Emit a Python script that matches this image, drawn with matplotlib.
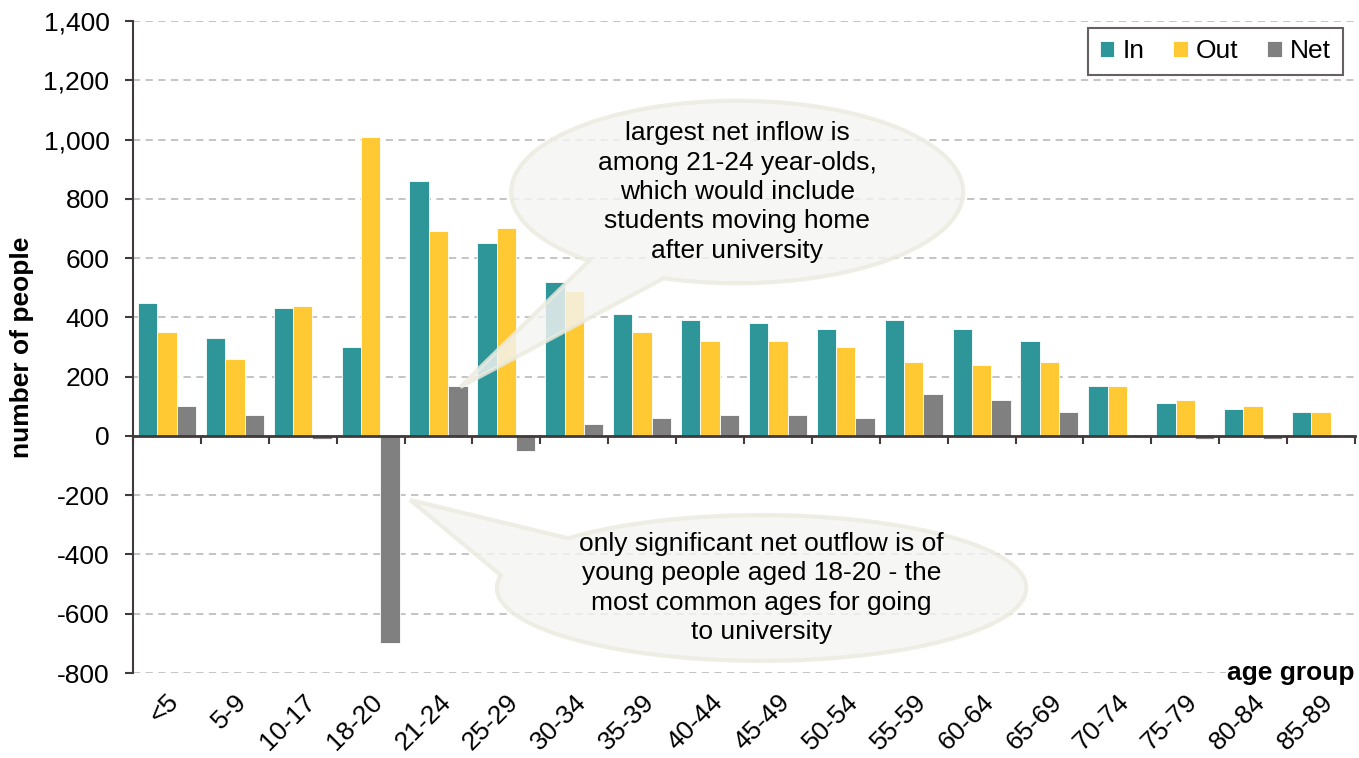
import numpy as np
import matplotlib.pyplot as plt
from matplotlib.patches import Polygon
from matplotlib.ticker import FuncFormatter

plt.rcParams['font.family'] = ['Liberation Sans', 'DejaVu Sans']

age_groups = ["<5", "5-9", "10-17", "18-20", "21-24", "25-29", "30-34", "35-39", "40-44",
              "45-49", "50-54", "55-59", "60-64", "65-69", "70-74", "75-79", "80-84", "85-89"]
inflow = [450, 330, 430, 300, 860, 650, 520, 410, 390, 380, 360, 390, 360, 320, 170, 110, 90, 80]
outflow = [350, 260, 440, 1010, 690, 700, 490, 350, 320, 320, 300, 250, 240, 250, 170, 120, 100, 80]
net = [100, 70, -10, -700, 170, -50, 40, 60, 70, 70, 60, 140, 120, 80, 0, -10, -10, 0]

note_in = "largest net inflow is\namong 21-24 year-olds,\nwhich would include\nstudents moving home\nafter university"
note_out = "only significant net outflow is of\nyoung people aged 18-20 - the\nmost common ages for going\nto university"

TEAL = "#2e9598"
YELLOW = "#ffc933"
GREY = "#808080"
DARK = "#403a3a"
FS = 19

fig = plt.figure(figsize=(13.59, 7.58), dpi=100)
ax = fig.add_axes([0.0979, 0.1121, 0.8991, 0.8602])

x = np.arange(len(age_groups))
w = 0.285
ax.bar(x - w, inflow, w, color=TEAL, edgecolor="white", linewidth=0.6, label="In", zorder=2)
ax.bar(x, outflow, w, color=YELLOW, edgecolor="white", linewidth=0.6, label="Out", zorder=2)
ax.bar(x + w, net, w, color=GREY, edgecolor="white", linewidth=0.6, label="Net", zorder=2)

ax.set_xlim(-0.5, len(age_groups) - 0.5)
ax.set_ylim(-800, 1400)
ax.set_yticks(np.arange(-800, 1401, 200))
ax.yaxis.set_major_formatter(FuncFormatter(lambda v, p: f"{int(v):,}"))
ax.grid(axis="y", color="#bfbfbf", linestyle=(0, (4, 3)), linewidth=1.3, zorder=0)
ax.set_axisbelow(True)
ax.tick_params(axis="y", labelsize=FS, direction="out", length=6, width=1.5, color=DARK, pad=11)

# zero line with ticks at the category boundaries
ax.spines["bottom"].set_position(("data", 0))
ax.spines["bottom"].set_color(DARK)
ax.spines["bottom"].set_linewidth(2)
ax.spines["bottom"].set_zorder(3)
ax.set_xticks(np.arange(len(age_groups) + 1) - 0.5)
ax.tick_params(axis="x", direction="out", length=6, width=1.5, color=DARK, labelbottom=False)
ax.spines["left"].set_color(DARK)
ax.spines["left"].set_linewidth(1.5)
ax.spines["top"].set_visible(False)
ax.spines["right"].set_visible(False)

sec = ax.secondary_xaxis("bottom")
sec.spines["bottom"].set_visible(False)
sec.set_xticks(x)
sec.set_xticklabels(age_groups, rotation=45, ha="right", rotation_mode="anchor", fontsize=FS)
sec.tick_params(length=0, pad=12)

ax.set_ylabel("number of people", fontsize=FS, fontweight="bold", labelpad=7)
ax.text(1.0, -800, "age group", transform=ax.get_yaxis_transform(), ha="right", va="center",
        fontsize=FS, fontweight="bold", zorder=5,
        bbox=dict(facecolor="white", edgecolor="none", pad=1))

leg = ax.legend(loc="upper right", ncol=3, fontsize=FS, frameon=True, fancybox=False,
                handlelength=0.55, handleheight=0.55, handletextpad=0.3, columnspacing=1.1,
                borderpad=0.45, bbox_to_anchor=(0.99, 0.99), borderaxespad=0)
leg.get_frame().set_edgecolor(DARK)
leg.get_frame().set_linewidth(1.5)


def callout(cx, cy, a, b, t1, t2, tip, text):
    t = np.radians(np.linspace(t2, t1 + 360, 200))
    pts = np.column_stack([cx + a * np.cos(t), cy + b * np.sin(t)])
    pts = np.vstack([pts, tip])
    ax.add_patch(Polygon(pts, closed=True, facecolor="#f4f4f2", alpha=0.82,
                         edgecolor="#ecebe0", linewidth=3, zorder=4))
    ax.text(cx, cy, text, ha="center", va="center", fontsize=FS, linespacing=1.28, zorder=5)


callout(8.40, 823, 3.33, 308, 229, 251, (4.32, 165), note_in)
callout(8.76, -513, 3.90, 246, 137, 170, (3.58, -216), note_out)

fig.savefig("out.png", dpi=100)
